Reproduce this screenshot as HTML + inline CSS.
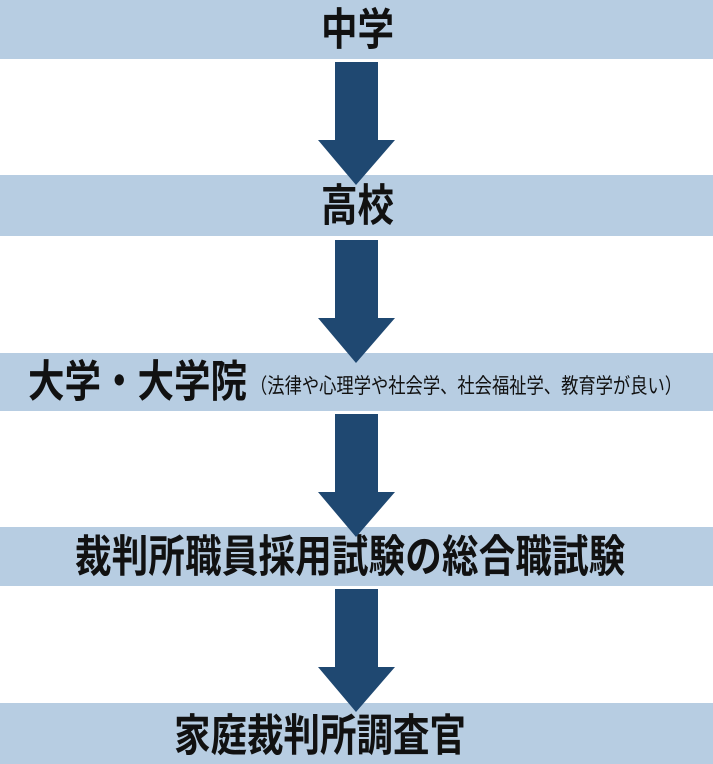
<!DOCTYPE html>
<html><head><meta charset="utf-8"><style>
body{margin:0;width:713px;height:764px;background:#fff;position:relative;overflow:hidden;font-family:"Liberation Sans","Noto Sans CJK JP",sans-serif;}
.b{position:absolute;left:0;width:713px;background:#b7cde2;}
.t{position:absolute;white-space:nowrap;font-weight:bold;font-size:36.5px;color:#111;line-height:1;transform:scaleY(1.2);transform-origin:center;}
svg{position:absolute;left:0;top:0;}
</style></head><body>
<div class="b" style="top:0;height:59px"></div>
<div class="b" style="top:175px;height:61px"></div>
<div class="b" style="top:353px;height:58px"></div>
<div class="b" style="top:527px;height:59px"></div>
<div class="b" style="top:703px;height:61px"></div>
<div class="t" style="left:321px;top:12px">中学</div>
<div class="t" style="left:321px;top:188px">高校</div>
<div class="t" style="left:28px;top:364px">大学・大学院<span style="font-size:17.3px;font-weight:normal;margin-left:3px;vertical-align:3px">（法律や心理学や社会学、社会福祉学、教育学が良い）</span></div>
<div class="t" style="left:75px;top:539px;letter-spacing:0.2px">裁判所職員採用試験の総合職試験</div>
<div class="t" style="left:174px;top:718px">家庭裁判所調査官</div>
<svg width="713" height="764">
<g fill="#1f4871">
<polygon points="335,62 378,62 378,140 395,140 356,185 318,140 335,140"/>
<polygon points="335,240 378,240 378,318 395,318 356,363 318,318 335,318"/>
<polygon points="335,414 378,414 378,492 395,492 356,537 318,492 335,492"/>
<polygon points="335,589 378,589 378,667 395,667 356,712 318,667 335,667"/>
</g></svg>
</body></html>
